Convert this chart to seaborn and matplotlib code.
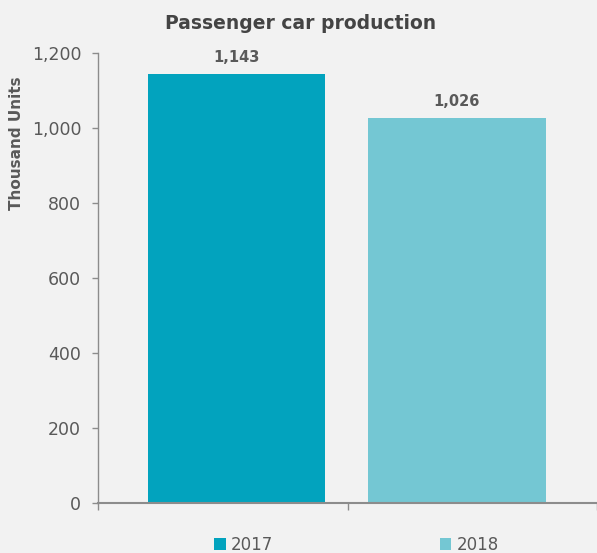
import seaborn as sns
import matplotlib.pyplot as plt
import pandas as pd
from matplotlib.patches import Patch

years = ["2017", "2018"]
production = [1143, 1026]
colors = ["#02A3BE", "#74C7D3"]

df = pd.DataFrame({"year": years, "units": production})

sns.set_style("white")
plt.rcParams["font.family"] = ["DejaVu Sans"]
bg = "#F2F2F2"
text_c = "#595959"
axis_c = "#8C8C8C"

fig = plt.figure(figsize=(5.97, 5.53), dpi=100, facecolor=bg)
ax = fig.add_axes([0.164, 0.0904, 0.836, 0.8138])
ax.set_facecolor(bg)

sns.barplot(data=df, x="year", y="units", hue="year", palette=colors,
            width=0.803, dodge=False, legend=False, ax=ax, saturation=1,
            linewidth=0)

ax.set_ylim(0, 1200)
ax.set_xlim(-0.628, 1.635)
ax.set_yticks(range(0, 1201, 200))
ax.set_yticklabels([f"{v:,}" for v in range(0, 1201, 200)], fontsize=12.5, color=text_c)
ax.set_xticks([-0.628, 0.506, 1.635])
ax.set_xticklabels([])
ax.tick_params(axis="y", left=True, length=4, color=axis_c, width=1, pad=8)
ax.tick_params(axis="x", bottom=True, length=5, color=axis_c, width=1)
ax.set_xlabel("")
ax.set_ylabel("Thousand Units", fontsize=11, fontweight="bold", color=text_c)
ax.yaxis.set_label_coords(-0.148, 0.80)

for s in ["top", "right"]:
    ax.spines[s].set_visible(False)
for s in ["left", "bottom"]:
    ax.spines[s].set_color(axis_c)
    ax.spines[s].set_linewidth(1)
ax.spines["bottom"].set_linewidth(1.5)

for i, v in enumerate(production):
    ax.text(i, v + 25, f"{v:,}", ha="center", va="bottom", fontsize=10.5,
            fontweight="bold", color=text_c)

ax.set_title("Passenger car production", fontsize=13.5, fontweight="bold",
             color="#444444", pad=17, x=0.407)

handles = [Patch(facecolor=c, edgecolor="none", label=y) for y, c in zip(years, colors)]
fig.legend(handles=handles, loc="center", bbox_to_anchor=(0.597, 0.015), ncol=2,
           frameon=False, fontsize=12, labelcolor=text_c, columnspacing=10,
           handlelength=0.7, handleheight=0.7, handletextpad=0.3)

fig.savefig("out.png", dpi=100, facecolor=bg)
